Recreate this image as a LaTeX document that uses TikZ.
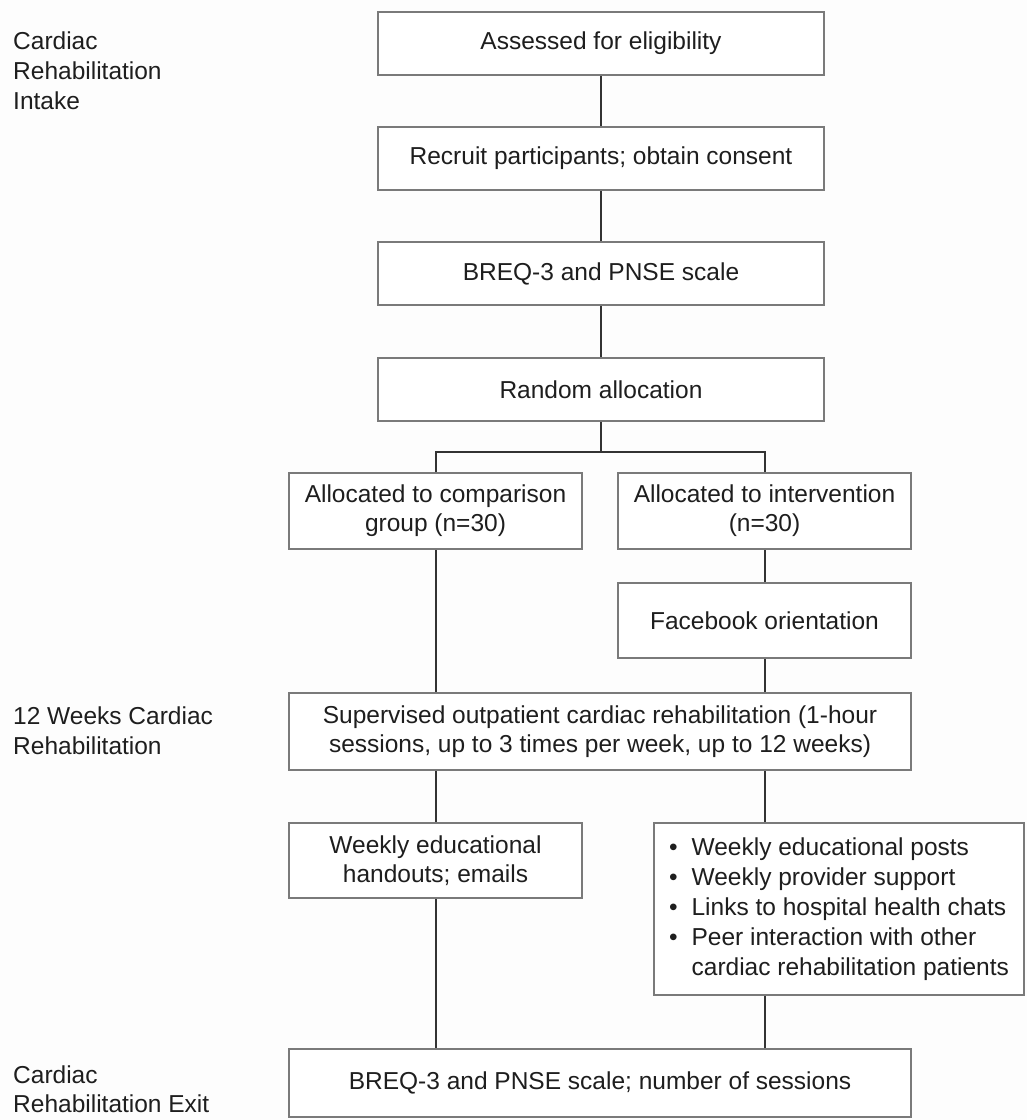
\documentclass[tikz,border=0pt]{standalone}
\usepackage{fontspec}
\setmainfont{Liberation Sans}
\definecolor{boxline}{HTML}{7A7A7A}
\definecolor{connc}{HTML}{333333}
\definecolor{txtc}{HTML}{1E1E1E}
\definecolor{bgc}{HTML}{FDFDFD}
\newcommand{\diagfont}{\fontsize{24.5}{29}\selectfont}
\begin{document}
\begin{tikzpicture}[x=1pt,y=-1pt,
  box/.style={draw=boxline, line width=2pt, fill=white, inner sep=0pt, align=center, text=txtc, font=\diagfont},
  conn/.style={draw=connc, line width=2pt},
  lbl/.style={inner sep=0pt, align=left, anchor=north west, text=txtc, font=\diagfont}]
\fill[bgc] (0,0) rectangle (1027,1120);
\useasboundingbox (0,0) rectangle (1027,1120);

% stage labels
\node[lbl, font=\fontsize{24.5}{30}\selectfont] (lintake) at (13,32) {Cardiac\\Rehabilitation\\Intake};
\node[lbl, font=\fontsize{24.5}{30}\selectfont] (lweeks) at (13,707) {12 Weeks Cardiac\\Rehabilitation};
\node[lbl, font=\fontsize{24.5}{29}\selectfont] (lexit) at (13,1066) {Cardiac\\Rehabilitation Exit};

% boxes
\node[box, minimum width=446, minimum height=63] (b1) at (601,43.5) {Assessed for eligibility};
\node[box, minimum width=446, minimum height=63] (b2) at (601,158.5) {Recruit participants; obtain consent};
\node[box, minimum width=446, minimum height=63] (b3) at (601,273.5) {BREQ-3 and PNSE scale};
\node[box, minimum width=446, minimum height=63] (b4) at (601,389.5) {Random allocation};
\node[box, minimum width=293, minimum height=76] (cmp) at (435.5,511) {Allocated to comparison\\group (n=30)};
\node[box, minimum width=293, minimum height=76] (int) at (764.5,511) {Allocated to intervention\\(n=30)};
\node[box, minimum width=293, minimum height=75] (fb) at (764.5,620.5) {Facebook orientation};
\node[box, minimum width=622, minimum height=77] (sup) at (600,731.5) {Supervised outpatient cardiac rehabilitation (1-hour\\sessions, up to 3 times per week, up to 12 weeks)};
\node[box, minimum width=293, minimum height=75] (hand) at (435.5,860.5) {Weekly educational\\handouts; emails};
\node[box, minimum width=370, minimum height=172] (bul) at (839,909) {%
  \fontsize{24.5}{30}\selectfont
  \begin{tabular}{@{}l@{\hspace{14pt}}l@{}}
  \textbullet & Weekly educational posts\\
  \textbullet & Weekly provider support\\
  \textbullet & Links to hospital health chats\\
  \textbullet & Peer interaction with other\\
              & cardiac rehabilitation patients
  \end{tabular}};
\node[box, minimum width=622, minimum height=68] (fin) at (600,1083) {BREQ-3 and PNSE scale; number of sessions};

% connectors
\coordinate (split) at (601,452);
\draw[conn] (b1.south) -- (b2.north);
\draw[conn] (b2.south) -- (b3.north);
\draw[conn] (b3.south) -- (b4.north);
\draw[conn] (b4.south) -- (split);
\draw[conn] (cmp.north) |- (split) -| (int.north);
\draw[conn] (cmp.south) -- (cmp.south |- sup.north);
\draw[conn] (int.south) -- (fb.north);
\draw[conn] (fb.south) -- (fb.south |- sup.north);
\draw[conn] (hand.north |- sup.south) -- (hand.north);
\draw[conn] (int.south |- sup.south) -- (int.south |- bul.north);
\draw[conn] (hand.south) -- (hand.south |- fin.north);
\draw[conn] (int.south |- bul.south) -- (int.south |- fin.north);
\end{tikzpicture}
\end{document}
